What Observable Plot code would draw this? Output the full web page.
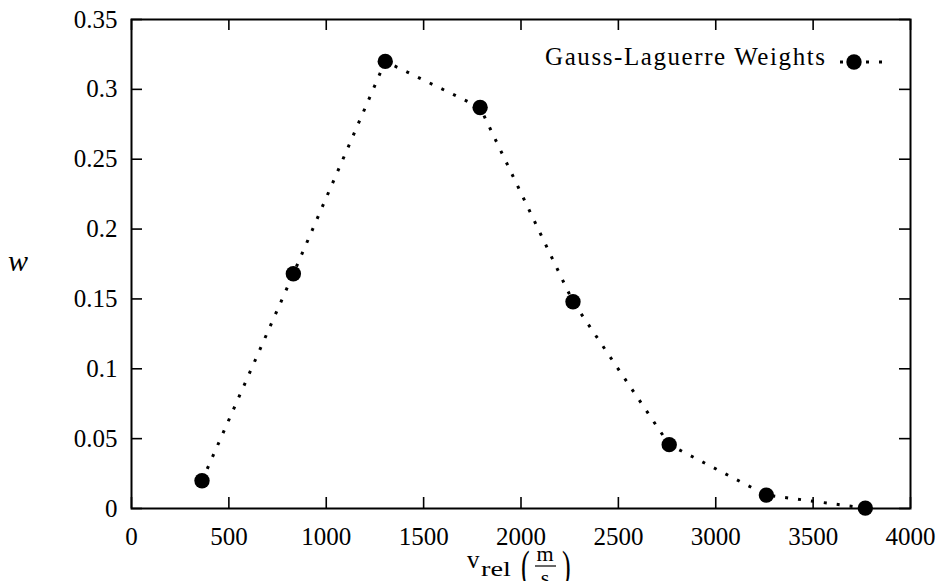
<!DOCTYPE html>
<html>
<head>
<meta charset="utf-8">
<script src="https://cdn.jsdelivr.net/npm/d3@7"></script>
<script src="https://cdn.jsdelivr.net/npm/@observablehq/plot@0.6"></script>
<style>
  html, body { margin: 0; padding: 0; background: #fff; overflow: hidden; }
  svg { display: block; }
  svg text { font-family: 'Liberation Serif', 'Times New Roman', serif; }
</style>
</head>
<body>
<div id="chart"></div>
<script>
// Data
const velocities = [362, 831, 1303, 1790, 2267, 2761, 3260, 3768];
const weights    = [0.0199, 0.168, 0.320, 0.287, 0.148, 0.0457, 0.0096, 0.0003];
const xTicks = [0, 500, 1000, 1500, 2000, 2500, 3000, 3500, 4000];
const yTicks = [0, 0.05, 0.1, 0.15, 0.2, 0.25, 0.3, 0.35];
const seriesName = "Gauss-Laguerre Weights";

const data = velocities.map((v, i) => ({v, w: weights[i]}));

const W = 938, H = 581;
const mL = 131, mR = 28, mT = 19, mB = 73;
const plotW = W - mL - mR, plotH = H - mT - mB;
const tick = 11;
const font = "'Liberation Serif', 'Times New Roman', serif";

const svg = Plot.plot({
  width: W,
  height: H,
  marginLeft: mL,
  marginRight: mR,
  marginTop: mT,
  marginBottom: mB,
  style: "font-family: 'Liberation Serif', 'Times New Roman', serif; font-size: 25px; color: #000; background: #fff; overflow: visible;",
  x: {domain: [0, 4000]},
  y: {domain: [0, 0.35]},
  marks: [
    Plot.axisX({ticks: xTicks, tickSize: 0, tickPadding: 19, tickFormat: d => String(d), label: null, fontSize: 25, fontFamily: font}),
    Plot.axisY({ticks: yTicks, tickSize: 0, tickPadding: 14, tickFormat: d => String(d), label: null, fontSize: 25, fontFamily: font}),
    // inward ticks on all four sides
    Plot.tickX(xTicks, {x: d => d, insetTop: plotH - tick, stroke: "#000", strokeWidth: 1.6}),
    Plot.tickX(xTicks, {x: d => d, insetBottom: plotH - tick, stroke: "#000", strokeWidth: 1.6}),
    Plot.tickY(yTicks, {y: d => d, insetRight: plotW - tick, stroke: "#000", strokeWidth: 1.6}),
    Plot.tickY(yTicks, {y: d => d, insetLeft: plotW - tick, stroke: "#000", strokeWidth: 1.6}),
    Plot.line(data, {x: "v", y: "w", stroke: "#000", strokeWidth: 3, strokeDasharray: "3,10", strokeLinecap: "butt"}),
    Plot.dot(data, {x: "v", y: "w", r: 7.7, fill: "#000", stroke: "none"}),
    Plot.frame({stroke: "#000", strokeWidth: 2})
  ]
});

const s = d3.select(svg);
const g = s.append("g")
  .attr("font-family", font)
  .attr("text-anchor", "start")
  .attr("fill", "#000");

// Legend
g.append("text")
  .attr("x", 825).attr("y", 65)
  .attr("text-anchor", "end")
  .attr("font-size", 25)
  .attr("textLength", 280)
  .attr("lengthAdjust", "spacing")
  .text(seriesName);
g.append("line")
  .attr("x1", 840).attr("x2", 888).attr("y1", 62).attr("y2", 62)
  .attr("stroke", "#000").attr("stroke-width", 3)
  .attr("stroke-dasharray", "3,10");
g.append("circle").attr("cx", 854).attr("cy", 62).attr("r", 7.7).attr("fill", "#000");

// Y label (italic w)
g.append("text")
  .attr("x", 8).attr("y", 271)
  .attr("font-size", 30)
  .attr("font-style", "italic")
  .text("w");

// X label: v_rel (m/s)
g.append("text").attr("x", 467).attr("y", 568).attr("font-size", 25).text("v");
g.append("text").attr("transform", "translate(481,576) scale(1.35,1)").attr("font-size", 21).text("rel");
g.append("text").attr("transform", "translate(521,580) scale(0.62,1)").attr("font-size", 42).text("(");
g.append("text").attr("x", 545).attr("y", 561).attr("font-size", 22).attr("text-anchor", "middle").text("m");
g.append("line").attr("x1", 535).attr("x2", 556).attr("y1", 566).attr("y2", 566).attr("stroke", "#000").attr("stroke-width", 1.2);
g.append("text").attr("x", 545).attr("y", 585).attr("font-size", 22).attr("text-anchor", "middle").text("s");
g.append("text").attr("transform", "translate(562,580) scale(0.62,1)").attr("font-size", 42).text(")");

document.getElementById("chart").appendChild(svg);
</script>
</body>
</html>
